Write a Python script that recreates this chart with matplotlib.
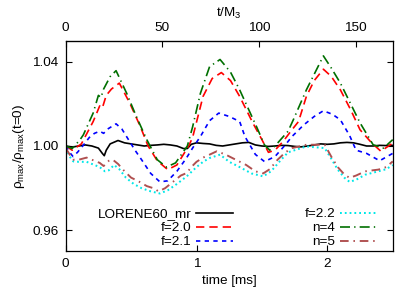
import matplotlib
matplotlib.use("Agg")
import matplotlib.pyplot as plt
from matplotlib.ticker import FormatStrFormatter

plt.rcParams['font.family'] = ['Liberation Sans', 'DejaVu Sans']
plt.rcParams['font.size'] = 9.7

# ---- data ----
t_lor = [0.00, 0.05, 0.10, 0.15, 0.20, 0.25, 0.28, 0.295, 0.31, 0.34, 0.40, 0.45, 0.50, 0.55,
         0.60, 0.65, 0.70, 0.75, 0.80, 0.85, 0.90, 0.93, 0.96, 1.00, 1.05, 1.10, 1.15, 1.20,
         1.25, 1.30, 1.35, 1.40, 1.45, 1.50, 1.55, 1.60, 1.65, 1.70, 1.75, 1.80, 1.85, 1.90,
         1.95, 2.00, 2.05, 2.10, 2.15, 2.20, 2.25, 2.30, 2.35, 2.40, 2.45, 2.50]
v_lor = [1.000, 0.9995, 1.000, 1.0005, 1.000, 0.999, 0.9965, 0.9954, 0.998, 1.001, 1.0026, 1.0015,
         1.001, 1.0005, 1.000, 1.0003, 1.0005, 1.0008, 1.0005, 1.000, 0.9988, 0.9988, 1.0008,
         1.0015, 1.0012, 1.001, 1.0003, 1.000, 1.0005, 1.001, 1.0015, 1.0017, 1.0005, 1.000,
         0.9998, 1.000, 1.0003, 1.0002, 0.9998, 0.9996, 1.000, 1.0005, 1.001, 1.0008, 1.001,
         1.0015, 1.0017, 1.0015, 1.0008, 1.000, 1.000, 1.0003, 1.0002, 1.0003]

t_f20 = [0.00, 0.05, 0.12, 0.21, 0.26, 0.28, 0.31, 0.35, 0.41, 0.49, 0.57, 0.63, 0.70, 0.78,
         0.85, 0.94, 0.97, 1.05, 1.12, 1.19, 1.26, 1.33, 1.43, 1.50, 1.55, 1.60, 1.66, 1.73,
         1.78, 1.84, 1.90, 1.97, 2.03, 2.10, 2.18, 2.25, 2.34, 2.41, 2.50]
v_f20 = [1.000, 0.998, 1.001, 1.0116, 1.019, 1.018, 1.024, 1.027, 1.0298, 1.0203, 1.0093, 1.000,
         0.993, 0.9888, 0.991, 1.000, 1.004, 1.0235, 1.032, 1.0348, 1.031, 1.0235, 1.011, 1.003,
         0.997, 0.998, 1.002, 1.0077, 1.0116, 1.0235, 1.031, 1.0364, 1.033, 1.0266, 1.017,
         1.0077, 1.0014, 0.9975, 1.0014]

t_f21 = [0.00, 0.03, 0.056, 0.09, 0.13, 0.18, 0.22, 0.26, 0.29, 0.32, 0.385, 0.43, 0.48, 0.53,
         0.58, 0.65, 0.72, 0.78, 0.85, 0.92, 0.97, 1.03, 1.10, 1.17, 1.25, 1.33, 1.37, 1.45,
         1.52, 1.60, 1.68, 1.73, 1.82, 1.90, 1.97, 2.04, 2.10, 2.17, 2.22, 2.30, 2.40, 2.50]
v_f21 = [1.000, 0.997, 0.995, 0.997, 1.000, 1.004, 1.006, 1.007, 1.006, 1.008, 1.0105, 1.008,
         1.003, 0.998, 0.9935, 0.987, 0.983, 0.9835, 0.988, 0.994, 0.999, 1.0045, 1.012,
         1.0156, 1.014, 1.0116, 1.0045, 0.996, 0.9926, 0.995, 1.0006, 1.0045, 1.010, 1.014,
         1.0167, 1.015, 1.0124, 1.005, 0.998, 0.9965, 0.993, 0.9965]

t_f22 = [0.00, 0.03, 0.058, 0.10, 0.16, 0.22, 0.26, 0.30, 0.33, 0.37, 0.41, 0.46, 0.52, 0.58,
         0.65, 0.72, 0.78, 0.85, 0.925, 1.00, 1.05, 1.10, 1.18, 1.25, 1.33, 1.42, 1.51, 1.57,
         1.64, 1.70, 1.75, 1.84, 1.98, 2.03, 2.08, 2.13, 2.17, 2.22, 2.29, 2.39, 2.45, 2.50]
v_f22 = [0.999, 0.995, 0.9927, 0.9925, 0.9925, 0.991, 0.990, 0.988, 0.9885, 0.991, 0.989, 0.985,
         0.982, 0.980, 0.9785, 0.9775, 0.979, 0.982, 0.9856, 0.990, 0.9925, 0.9943, 0.9959,
         0.9925, 0.990, 0.987, 0.9856, 0.988, 0.993, 0.997, 0.998, 0.9998, 0.999, 0.994,
         0.9888, 0.985, 0.983, 0.984, 0.9864, 0.988, 0.989, 0.991]

t_n4 = [0.00, 0.05, 0.11, 0.135, 0.21, 0.25, 0.27, 0.29, 0.34, 0.385, 0.466, 0.54, 0.62, 0.70,
        0.77, 0.84, 0.93, 0.97, 1.03, 1.10, 1.18, 1.26, 1.33, 1.46, 1.52, 1.56, 1.60, 1.70,
        1.74, 1.84, 1.97, 2.03, 2.10, 2.25, 2.35, 2.43, 2.50]
v_n4 = [1.000, 0.9988, 1.003, 1.0053, 1.0156, 1.024, 1.023, 1.027, 1.0329, 1.0357, 1.025, 1.014,
        1.003, 0.9935, 0.990, 0.992, 1.000, 1.009, 1.025, 1.0376, 1.041, 1.035, 1.0266, 1.009,
        1.0005, 0.998, 1.000, 1.007, 1.0124, 1.0266, 1.0427, 1.037, 1.0298, 1.011, 1.0006,
        0.999, 1.003]

t_n5 = [0.00, 0.03, 0.06, 0.10, 0.16, 0.22, 0.26, 0.29, 0.33, 0.36, 0.40, 0.45, 0.50, 0.55,
        0.62, 0.67, 0.71, 0.76, 0.82, 0.88, 0.925, 0.96, 1.00, 1.05, 1.10, 1.155, 1.22, 1.30,
        1.38, 1.45, 1.51, 1.56, 1.62, 1.68, 1.73, 1.84, 1.98, 2.03, 2.08, 2.13, 2.17, 2.22,
        2.29, 2.35, 2.39, 2.45, 2.50]
v_n5 = [0.999, 0.996, 0.9935, 0.9935, 0.9945, 0.993, 0.992, 0.9905, 0.993, 0.9935, 0.9915,
        0.988, 0.985, 0.9835, 0.981, 0.980, 0.9785, 0.980, 0.983, 0.986, 0.9872, 0.990, 0.9925,
        0.9945, 0.9959, 0.9975, 0.996, 0.9935, 0.991, 0.988, 0.987, 0.989, 0.9935, 0.997,
        0.999, 1.0006, 1.0006, 0.995, 0.990, 0.9865, 0.9849, 0.986, 0.988, 0.9885, 0.9888,
        0.990, 0.9927]

labels = ["LORENE60_mr", "f=2.0", "f=2.1", "f=2.2", "n=4", "n=5"]
x_ticks = [0, 1, 2]
top_ticks = [0, 50, 100, 150]
y_ticks = [0.96, 1.00, 1.04]
MS_TO_M3 = 67.68

fig = plt.figure(figsize=(4.15, 2.95), dpi=100)
ax = fig.add_axes([0.1583, 0.1475, 0.788, 0.7152])

lw = 1.2
ax.plot(t_lor, v_lor, color='black', lw=lw, label=labels[0])
ax.plot(t_f20, v_f20, color='#ff0000', lw=lw, dashes=(5, 3), label=labels[1])
ax.plot(t_f21, v_f21, color='#0000ff', lw=lw, dashes=(2.6, 2.6), label=labels[2])
ax.plot(t_f22, v_f22, color='#00e8e8', lw=lw*1.2, dashes=(0.9, 1.5), label=labels[3])
ax.plot(t_n4, v_n4, color='#006f00', lw=lw, dashes=(6, 2.5, 0.8, 2.5), label=labels[4])
ax.plot(t_n5, v_n5, color='#b05050', lw=lw*1.15, dashes=(4.5, 2.5, 0.8, 2.5), label=labels[5])

ax.set_xlim(0, 2.5)
ax.set_ylim(0.95, 1.05)
ax.set_xticks(x_ticks)
ax.set_yticks(y_ticks)
ax.yaxis.set_major_formatter(FormatStrFormatter('%.2f'))
ax.tick_params(direction='in', length=4, width=0.8, top=False, right=True, pad=5)
ax.set_xlabel("time [ms]", labelpad=3)
ax.set_ylabel(r"ρ$_{\mathregular{max}}$/ρ$_{\mathregular{max}}$(t=0)", labelpad=4)

sec = ax.secondary_xaxis('top', functions=(lambda t: t * MS_TO_M3, lambda m: m / MS_TO_M3))
sec.set_xticks(top_ticks)
sec.tick_params(direction='in', length=4, width=0.8, pad=5)
sec.set_xlabel(r"t/M$_{\mathregular{3}}$", labelpad=3)

for s in ax.spines.values():
    s.set_linewidth(0.9)

leg = ax.legend(ncol=2, loc='lower left', bbox_to_anchor=(0.098, 0.015),
                frameon=False, markerfirst=False, handlelength=2.7, handletextpad=0.35,
                columnspacing=5.35, labelspacing=0.12, borderpad=0, borderaxespad=0)

fig.savefig("out.png", dpi=100)
